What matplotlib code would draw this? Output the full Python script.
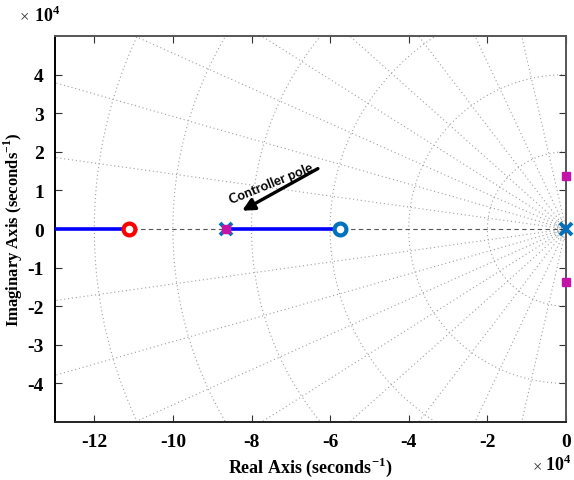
import numpy as np
import matplotlib.pyplot as plt

plt.rcParams['mathtext.fontset'] = 'custom'
plt.rcParams['mathtext.bf'] = 'Liberation Serif:bold'
plt.rcParams['mathtext.rm'] = 'Liberation Serif:bold'
plt.rcParams['axes.unicode_minus'] = False

# values in seconds^-1, plotted in units of 1e4
scale = 1e4
locus_left_re = [-130000.0, -111200.0]     # branch running off to -inf
locus_right_re = [-86500.0, -57500.0]      # branch between pole and zero
ol_zeros_re = [-111200.0, -57500.0]
ol_poles_re = [-86500.0, 0.0]
cl_poles_re = [-86500.0, 0.0, 0.0]
cl_poles_im = [0.0, 13800.0, -13800.0]

# s-plane grid
zetas = [0.22, 0.42, 0.6, 0.74, 0.84, 0.91, 0.96, 0.99]
wns = [1600, 2200, 2700, 20000, 40000, 60000, 80000, 100000, 120000, 140000]

xticks = [-12, -10, -8, -6, -4, -2, 0]
yticks = [-4, -3, -2, -1, 0, 1, 2, 3, 4]

serif = 'Liberation Serif'
mblue = '#0072BD'
magenta = '#C414A8'

fig = plt.figure(figsize=(5.74, 4.81), dpi=100)
ax = fig.add_axes([0.0958, 0.1206, 0.8902, 0.8024])
ax.set_xlim(-13, 0)
ax.set_ylim(-5, 5)

# damping rays and natural frequency arcs
gs = dict(color='#a0a0a0', lw=0.8, ls=(0, (1, 2.5)), zorder=1)
R = 20
for z in zetas:
    th = np.arccos(z)
    ax.plot([0, -R * np.cos(th)], [0, R * np.sin(th)], **gs)
    ax.plot([0, -R * np.cos(th)], [0, -R * np.sin(th)], **gs)
t = np.linspace(np.pi / 2, 3 * np.pi / 2, 400)
for w in wns:
    r = w / scale
    ax.plot(r * np.cos(t), r * np.sin(t), **gs)
ax.axhline(0, color='#555555', lw=0.8, ls=(0, (4, 3)), zorder=1.5)

# root locus
ax.plot(np.array(locus_left_re) / scale, [0, 0], color='#0000FF', lw=2.6, zorder=3)
ax.plot(np.array(locus_right_re) / scale, [0, 0], color='#0000FF', lw=2.6, zorder=3)

# zeros
ax.plot(ol_zeros_re[0] / scale, 0, 'o', ms=8.5, mfc='white', mec='red', mew=3, zorder=4)
ax.plot(ol_zeros_re[1] / scale, 0, 'o', ms=8.5, mfc='white', mec=mblue, mew=3, zorder=4)
# poles
ax.plot(np.array(ol_poles_re) / scale, [0, 0], 'x', ms=8, color=mblue, mew=2.8, zorder=4,
        clip_on=False)
ax.plot(np.array(cl_poles_re) / scale, np.array(cl_poles_im) / scale, 's', ms=5.5,
        color=magenta, zorder=5, clip_on=False)

# annotation
ax.annotate('', xy=(-8.3, 0.44), xytext=(-6.25, 1.6),
            arrowprops=dict(arrowstyle='-|>', color='k', lw=2.4, mutation_scale=18))
ax.text(-7.5, 1.2, 'Controller pole', rotation=22, ha='center', va='center',
        fontsize=9.5, fontweight='bold', family='Lato')

ax.set_xticks(xticks)
ax.set_yticks(yticks)
ax.tick_params(direction='in', length=5, width=0.8, top=True, right=True,
               labelsize=14, pad=8, colors='#333333', labelcolor='black')
for lab in ax.get_xticklabels() + ax.get_yticklabels():
    lab.set_family(serif)
    lab.set_fontweight('bold')
ax.spines['left'].set_color('black')
ax.spines['bottom'].set_color('#222222')
ax.spines['top'].set_color('#555555')
ax.spines['right'].set_color('#555555')
for s in ax.spines.values():
    s.set_linewidth(1.4)

ax.set_xlabel('Real Axis (seconds$^{\\mathbf{-1}}$)', family=serif, fontweight='bold',
              fontsize=13)
ax.set_ylabel('Imaginary Axis (seconds$^{\\mathbf{-1}}$)', family=serif, fontweight='bold',
              fontsize=12)
ax.xaxis.set_label_coords(0.5, -0.085)
ax.yaxis.set_label_coords(-0.058, 0.5)

# exponent labels
fig.text(0.035, 0.955, '\u00d7', family=serif, fontsize=12, color='#333333')
fig.text(0.06, 0.955, '10$^{\\mathbf{4}}$', family=serif, fontsize=13, fontweight='bold')
fig.text(0.928, 0.02, '\u00d7', family=serif, fontsize=12, color='#333333')
fig.text(0.95, 0.02, '10$^{\\mathbf{4}}$', family=serif, fontsize=13, fontweight='bold')

fig.savefig('out.png', dpi=100)
